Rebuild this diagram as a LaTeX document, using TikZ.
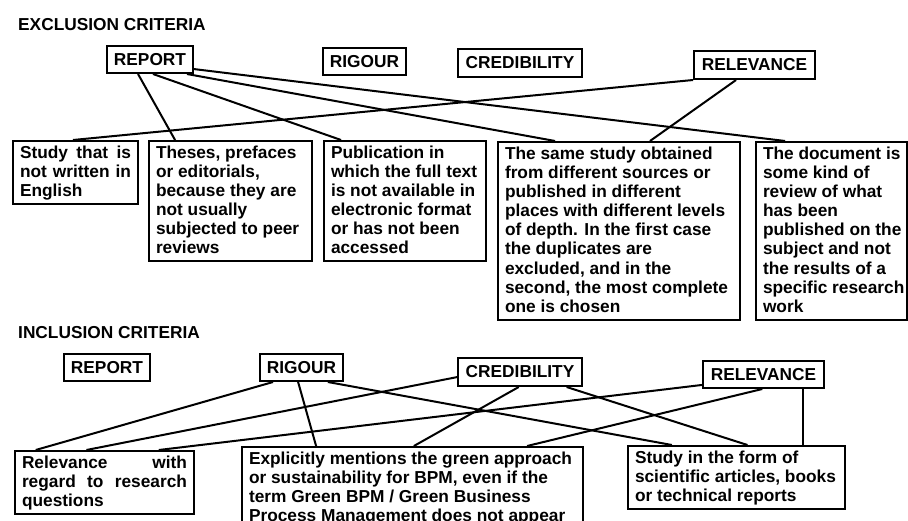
\documentclass[tikz,border=0pt]{standalone}
\usepackage{fontspec}
\setmainfont{Liberation Sans}
\usetikzlibrary{calc}
\newcommand\cbtxt[3]{\parbox[c][#2][t]{\dimexpr#1-14pt\relax}{\raggedright\hfuzz=20pt\vspace*{4.1pt}\strut #3\par}}
\tikzset{
  lab/.style 2 args={draw, line width=2pt, inner sep=0pt, minimum width=#1, minimum height=#2},
  cbox/.style 2 args={draw, line width=2pt, inner sep=0pt, anchor=north west, minimum width=#1, minimum height=#2},
  conn/.style={line width=2pt},
  ttl/.style={anchor=base west, inner sep=0pt}
}
\begin{document}
\begin{tikzpicture}[x=1pt, y=-1pt, font=\fontsize{17.3}{19.1}\selectfont\bfseries]
\useasboundingbox (0,0) rectangle (908,520);

% ---------- Exclusion ----------
\node[ttl] (etitle) at (18,30.5) {EXCLUSION CRITERIA};
\node[lab={86pt}{27pt}] (erep) at (150,59.5) {REPORT};
\node[lab={83pt}{27pt}] (erig) at (364.5,61.5) {RIGOUR};
\node[lab={124pt}{28pt}] (ecre) at (520,63) {CREDIBILITY};
\node[lab={121pt}{28pt}] (erel) at (754.5,65) {RELEVANCE};

\node[cbox={125pt}{63pt}] (eb1) at (12,140) {\cbtxt{125pt}{63pt}{\makebox[\linewidth][s]{Study that is}\\\makebox[\linewidth][s]{not written in}\\English}};
\node[cbox={163pt}{120pt}] (eb2) at (148,140) {\cbtxt{163pt}{120pt}{Theses, prefaces\\or editorials,\\because they are\\not usually\\subjected to peer\\reviews}};
\node[cbox={162pt}{120pt}] (eb3) at (323,140) {\cbtxt{162pt}{120pt}{Publication in\\which the full text\\is not available in\\electronic format\\or has not been\\accessed}};
\node[cbox={242pt}{178pt}] (eb4) at (497,141) {\cbtxt{242pt}{178pt}{The same study obtained\\from different sources or\\published in different\\places with different levels\\of depth. In the first case\\the duplicates are\\excluded, and in the\\second, the most complete\\one is chosen}};
\node[cbox={151pt}{178pt}] (eb5) at (755,141) {\cbtxt{151pt}{178pt}{\mbox{The document is}\\\mbox{some kind of}\\\mbox{review of what}\\\mbox{has been}\\\mbox{published on the}\\\mbox{subject and not}\\\mbox{the results of a}\\\mbox{specific research}\\work}};

\draw[conn] ($(erep.south west)!0.364!(erep.south east)$) -- ($(eb2.north west)!0.164!(eb2.north east)$);
\draw[conn] ($(erep.south west)!0.534!(erep.south east)$) -- ($(eb3.north west)!0.11!(eb3.north east)$);
\draw[conn] ($(erep.south west)!0.92!(erep.south east)$) -- ($(eb4.north west)!0.238!(eb4.north east)$);
\draw[conn] ($(erep.north east)!0.83!(erep.south east)$) -- ($(eb5.north west)!0.197!(eb5.north east)$);
\draw[conn] (erel.south west) -- ($(eb1.north west)!0.48!(eb1.north east)$);
\draw[conn] ($(erel.south west)!0.35!(erel.south east)$) -- ($(eb4.north west)!0.627!(eb4.north east)$);

% ---------- Inclusion ----------
\node[ttl] (ititle) at (18,338.3) {INCLUSION CRITERIA};
\node[lab={86pt}{27pt}] (irep) at (107,367.5) {REPORT};
\node[lab={83pt}{27pt}] (irig) at (301.5,367.5) {RIGOUR};
\node[lab={124pt}{28pt}] (icre) at (520,372) {CREDIBILITY};
\node[lab={121pt}{27pt}] (irel) at (763.5,374.5) {RELEVANCE};

\node[cbox={179pt}{63pt}] (ib1) at (14,450) {\cbtxt{179pt}{63pt}{\makebox[\linewidth][s]{Relevance with}\\\makebox[\linewidth][s]{regard to research}\\questions}};
\node[cbox={341pt}{84pt}] (ib2) at (241,446) {\cbtxt{341pt}{84pt}{Explicitly mentions the green approach\\or sustainability for BPM, even if the\\term Green BPM / Green Business\\Process Management does not appear}};
\node[cbox={217pt}{63pt}] (ib3) at (627,445) {\cbtxt{217pt}{63pt}{Study in the form of\\scientific articles, books\\or technical reports}};

\draw[conn] ($(irig.south west)!0.165!(irig.south east)$) -- ($(ib1.north west)!0.12!(ib1.north east)$);
\draw[conn] ($(icre.north west)!0.67!(icre.south west)$) -- ($(ib1.north west)!0.40!(ib1.north east)$);
\draw[conn] ($(irel.north west)!0.86!(irel.south west)$) -- ($(ib1.north west)!0.80!(ib1.north east)$);
\draw[conn] ($(irig.south west)!0.46!(irig.south east)$) -- ($(ib2.north west)!0.219!(ib2.north east)$);
\draw[conn] ($(icre.south west)!0.49!(icre.south east)$) -- ($(ib2.north west)!0.504!(ib2.north east)$);
\draw[conn] ($(irel.south west)!0.49!(irel.south east)$) -- ($(ib2.north west)!0.834!(ib2.north east)$);
\draw[conn] ($(irig.south west)!0.81!(irig.south east)$) -- ($(ib3.north west)!0.205!(ib3.north east)$);
\draw[conn] ($(icre.south west)!0.87!(icre.south east)$) -- ($(ib3.north west)!0.55!(ib3.north east)$);
\coordinate (relfoot) at ($(irel.south west)!0.82!(irel.south east)$);
\draw[conn] (relfoot) -- (relfoot |- ib3.north);
\end{tikzpicture}
\end{document}
